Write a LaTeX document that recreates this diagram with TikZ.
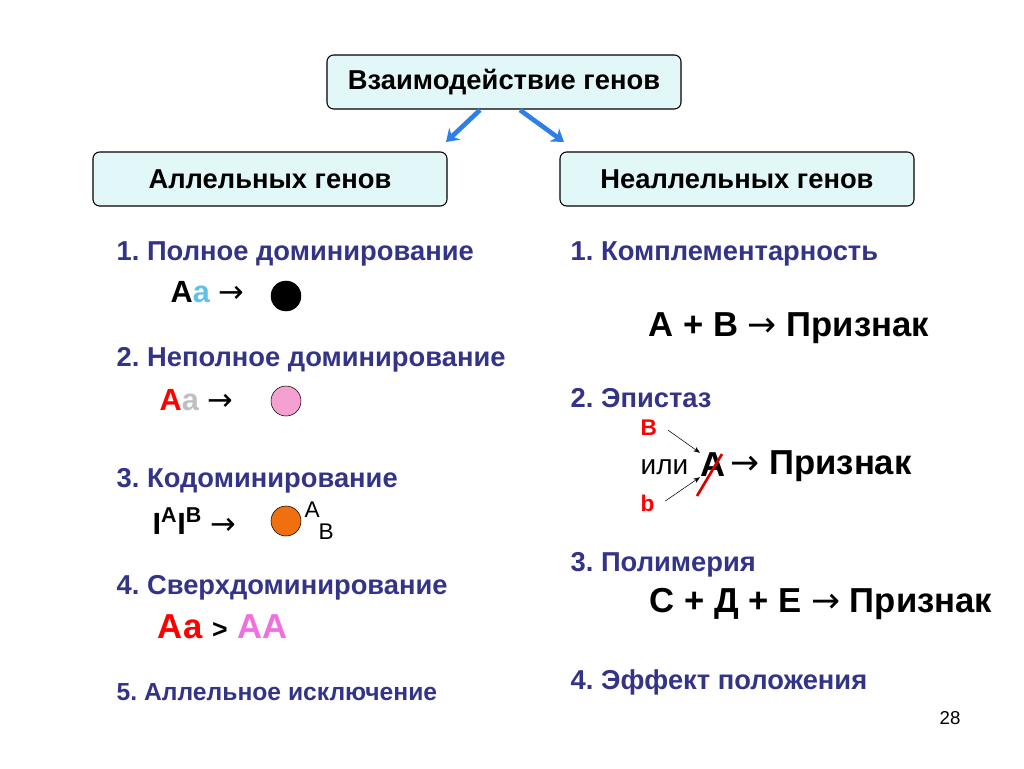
\documentclass[tikz,border=0pt]{standalone}
\usepackage{fontspec}
\usetikzlibrary{arrows.meta}
\setmainfont{Liberation Sans}
\newfontfamily\djv{DejaVu Sans}
\definecolor{hd}{HTML}{333388}
\definecolor{bx}{HTML}{E2F8F8}
\definecolor{arb}{HTML}{2F7FE8}
\definecolor{pinkc}{HTML}{F4A0D0}
\definecolor{orc}{HTML}{F07010}
\definecolor{vio}{HTML}{F070E0}
\definecolor{lb}{HTML}{60C0E8}
\frenchspacing
\newcommand\myarr{{\djv\mdseries →}}
\begin{document}
\begin{tikzpicture}[x=0.75pt,y=-0.75pt,
  box/.style={draw=black,fill=bx,rounded corners=5pt,line width=0.8pt,minimum width=354*0.75pt,minimum height=54*0.75pt,font=\bfseries\fontsize{20.5}{24}\selectfont,text=black},
  itm/.style={anchor=west,text=hd,font=\bfseries\fontsize{20.5}{24}\selectfont},
  frm/.style={anchor=west,font=\bfseries\fontsize{23}{26}\selectfont},
  big/.style={anchor=west,font=\bfseries\fontsize{26}{30}\selectfont},
  barr/.style={draw=arb,line width=3.5pt,-{Stealth[length=9pt,width=12pt]}},
  circ/.style={circle,draw=black,minimum size=30*0.75pt,inner sep=0pt}]
\useasboundingbox (0,0) rectangle (1024,768);
\node[box] (top) at (504,82) {Взаимодействие генов};
\node[box] (al) at (270,179) {Аллельных генов};
\node[box] (nal) at (737,179) {Неаллельных генов};
\coordinate (t1) at (480,110);\coordinate (t2) at (520,110);
\draw[barr] (t1) -- (446,142);
\draw[barr] (t2) -- (564,142);
% left
\node[itm] (l1) at (112,254) {1. Полное доминирование};
\node[frm] (f1) at (166,292) {А\textcolor{lb}{а} \myarr};
\node[circ,fill=black] (c1) at (286,296) {};
\node[itm] (l2) at (112,360) {2. Неполное доминирование};
\node[frm] (f2) at (155,400) {\textcolor{red}{А}\textcolor{black!25}{а} \myarr};
\node[circ,fill=pinkc] (c2) at (286,401) {};
\node[itm] (l3) at (112,481) {3. Кодоминирование};
\node[frm] (f3) at (148,521) {I\textsuperscript{A}I\textsuperscript{B} \myarr};
\node[circ,fill=orc] (c3) at (286,521) {};
\node[anchor=west,font=\fontsize{17}{20}\selectfont] (sa) at (300,510) {A};
\node[anchor=west,font=\fontsize{17}{20}\selectfont] (sb) at (314,532) {B};
\node[itm] (l4) at (112,588) {4. Сверхдоминирование};
\node[big] (f4) at (153,627) {\textcolor{red}{Аа} {\fontsize{20}{22}\selectfont >} \textcolor{vio}{АА}};
\node[itm,font=\bfseries\fontsize{18.5}{22}\selectfont] (l5) at (112,692) {5. Аллельное исключение};
% right
\node[itm] (r1) at (566,254) {1. Комплементарность};
\node[big] (g1) at (644,328) {А + В \myarr\ Признак};
\node[itm] (r2) at (566,398) {2. Эпистаз};
\node[anchor=west,text=red,font=\bfseries\fontsize{17}{20}\selectfont] (eb) at (636,428) {B};
\node[anchor=west,text=red,font=\bfseries\fontsize{17}{20}\selectfont] (es) at (636,503) {b};
\node[anchor=west,font=\fontsize{21}{24}\selectfont] (ili) at (636,467) {или};
\node[big,inner sep=0pt] (ea) at (700,465) {А};
\node[big] (ep) at (726,466) {\myarr\ Признак};
\draw[-{Stealth[length=5pt]},thin] (eb.east)++(6,2) -- (ea.north west);
\draw[-{Stealth[length=5pt]},thin] (es.east)++(6,-2) -- (ea.south west);
\draw[red!85!black,line width=2pt] (697,496) -- (722,454);
\node[itm] (r3) at (566,565) {3. Полимерия};
\node[big] (g3) at (645,604) {С + Д + Е \myarr\ Признак};
\node[itm] (r4) at (566,682) {4. Эффект положения};
\node[font=\fontsize{14}{16}\selectfont] (pg) at (950,718) {28};
\end{tikzpicture}
\end{document}
